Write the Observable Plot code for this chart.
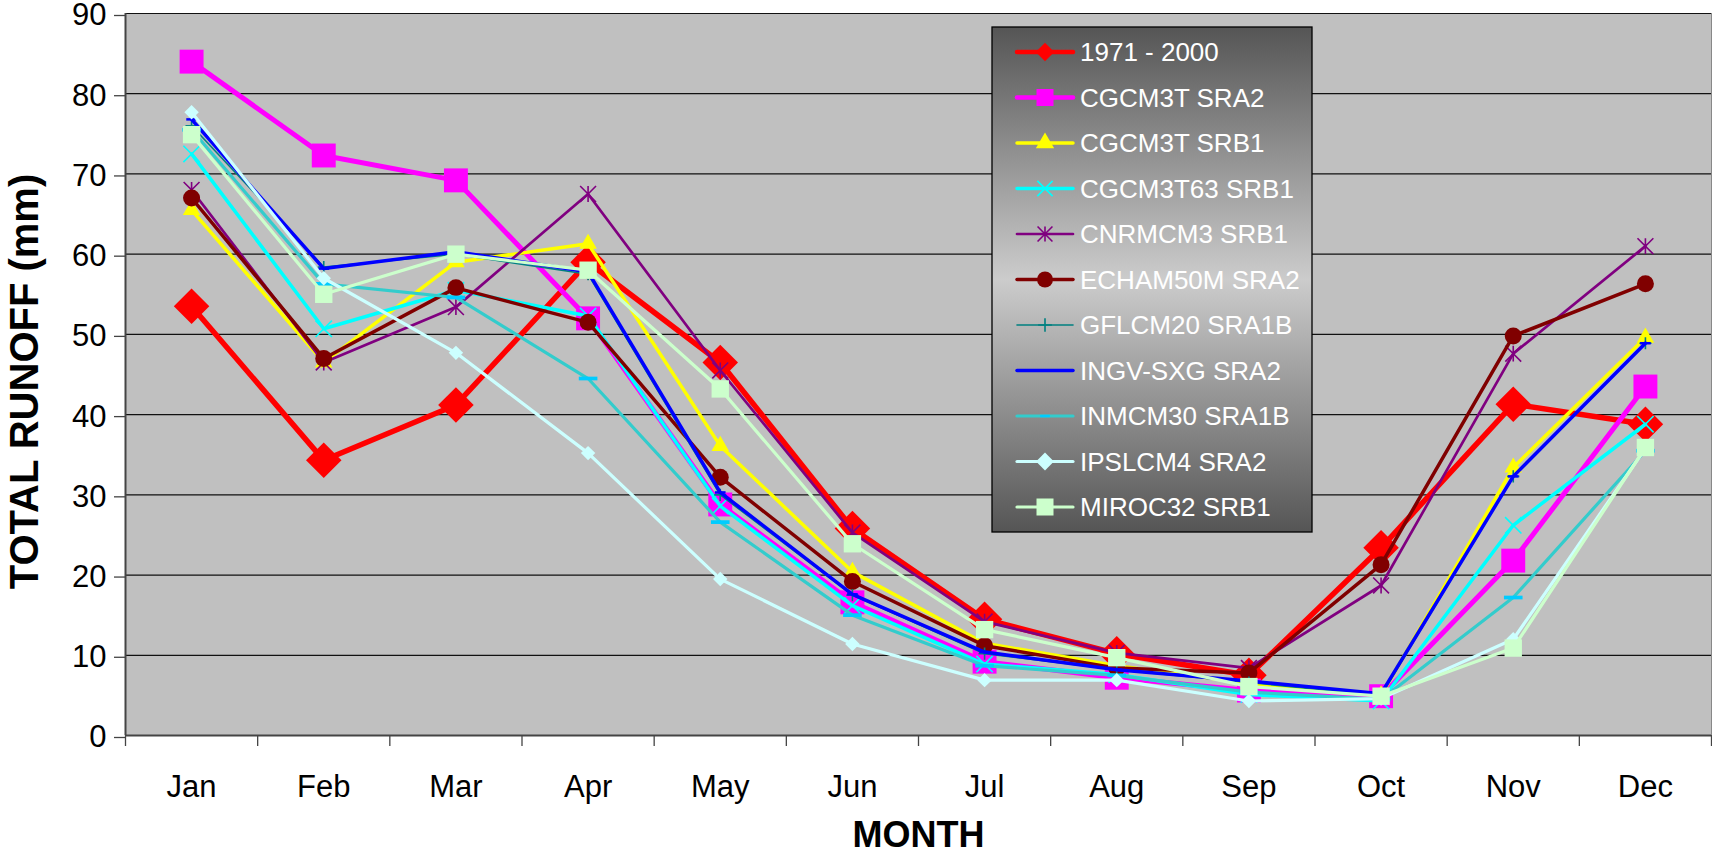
<!DOCTYPE html>
<html><head><meta charset="utf-8">
<script src="https://cdn.jsdelivr.net/npm/d3@7"></script>
<script src="https://cdn.jsdelivr.net/npm/@observablehq/plot@0.6"></script>
<style>
html,body{margin:0;padding:0;background:#fff;}
#chart{width:1712px;height:855px;}
</style></head><body><div id="chart"></div>
<script>
// ---- data ----
const months = ["Jan","Feb","Mar","Apr","May","Jun","Jul","Aug","Sep","Oct","Nov","Dec"];
const yTicks = [0,10,20,30,40,50,60,70,80,90];
const seriesNames = ["1971 - 2000","CGCM3T SRA2","CGCM3T SRB1","CGCM3T63 SRB1","CNRMCM3 SRB1","ECHAM50M SRA2","GFLCM20 SRA1B","INGV-SXG SRA2","INMCM30 SRA1B","IPSLCM4 SRA2","MIROC32 SRB1"];
const obs1971_2000  = [53.5, 34.3, 41.2, 59.0, 46.5, 25.8, 14.5, 10.2, 7.5, 23.4, 41.3, 38.8];
const cgcm3tSRA2    = [84.0, 72.3, 69.2, 52.0, 28.8, 16.6, 9.2, 7.2, 5.6, 4.9, 21.8, 43.5];
const cgcm3tSRB1    = [65.5, 46.5, 59.0, 61.3, 36.1, 20.4, 11.5, 8.7, 6.5, 5.0, 33.4, 49.6];
const cgcm3t63SRB1  = [72.5, 50.7, 55.5, 52.3, 28.6, 16.2, 8.9, 7.6, 5.1, 4.3, 26.2, 38.8];
const cnrmcm3SRB1   = [68.0, 46.5, 53.4, 67.5, 45.5, 25.3, 14.2, 10.3, 8.4, 18.7, 47.6, 61.0];
const echam50mSRA2  = [67.0, 47.0, 55.8, 51.5, 32.2, 19.2, 11.2, 8.4, 7.8, 21.3, 49.8, 56.3];
const gflcm20SRA1B  = [76.0, 58.4, 60.0, 57.5, 30.0, 17.5, 10.2, 8.2, 6.6, 5.0, 32.3, 48.9];
const ingvSXGSRA2   = [76.8, 58.2, 60.3, 57.8, 30.3, 17.6, 10.4, 8.2, 6.8, 5.2, 32.3, 48.9];
const inmcm30SRA1B  = [75.5, 56.3, 54.6, 44.5, 26.6, 15.0, 8.7, 7.5, 5.4, 4.5, 17.2, 35.5];
const ipslcm4SRA2   = [77.7, 57.0, 47.7, 35.2, 19.5, 11.4, 6.9, 6.9, 4.3, 4.6, 12.0, 35.8];
const miroc32SRB1   = [74.9, 55.0, 60.0, 58.0, 43.2, 23.9, 13.2, 9.7, 6.1, 4.9, 10.9, 35.9];
const seriesValues = [obs1971_2000, cgcm3tSRA2, cgcm3tSRB1, cgcm3t63SRB1, cnrmcm3SRB1, echam50mSRA2, gflcm20SRA1B, ingvSXGSRA2, inmcm30SRA1B, ipslcm4SRA2, miroc32SRB1];

// ---- styles ----
const dash = {draw(ctx, size){ const w = Math.sqrt(size); const h = Math.max(2.5, w/5); ctx.rect(-w/2, -h/2, w, h); }};
const star = {draw(ctx, size){ const r = Math.sqrt(size) * 0.56;
  ctx.moveTo(0, -r); ctx.lineTo(0, r);
  ctx.moveTo(-r, -r); ctx.lineTo(r, r);
  ctx.moveTo(-r, r); ctx.lineTo(r, -r); }};
const styles = [
  {line:"#FF0000", lw:5.5, sym:d3.symbolDiamond2, r:16,  fill:"#FF0000", lr:8.3},
  {line:"#FF00FF", lw:5,   sym:d3.symbolSquare,   r:13.5,fill:"#FF00FF", lr:9.6},
  {line:"#FFFF00", lw:3.5, sym:d3.symbolTriangle, r:6.5, fill:"#FFFF00", lr:6.8},
  {line:"#00FFFF", lw:3.5, sym:d3.symbolTimes,    r:7.5, stroke:"#00FFFF", lr:7},
  {line:"#800080", lw:2.7, sym:star,              r:8,   stroke:"#800080", lr:7.5},
  {line:"#800000", lw:3.5, sym:d3.symbolCircle,   r:8.5, fill:"#800000", lr:8},
  {line:"#008080", lw:1.6, sym:d3.symbolPlus,     r:4,   stroke:"#008080", lr:4.5},
  {line:"#0000FF", lw:3.5, sym:dash,              r:6,   fill:"#0000FF", lr:5},
  {line:"#33CCCC", lw:3.2, sym:dash,              r:10.5,fill:"#00CCFF", lr:5.5},
  {line:"#CCFFFF", lw:3.2, sym:d3.symbolDiamond2, r:6.5, fill:"#CCFFFF", lr:8},
  {line:"#CCFFCC", lw:3.2, sym:d3.symbolSquare,   r:9.8, fill:"#CCFFCC", lr:9.6}
];

const rows = seriesValues.map(vals => vals.map((v, i) => ({m: i, v})));
const boundaries = months.map((_, i) => i - 0.5).concat([months.length - 0.5]);
const monthIdx = months.map((_, i) => i);

const marks = [
  Plot.frame({fill:"#C0C0C0", stroke:"#888"}),
  Plot.gridY(yTicks, {stroke:"#111", strokeOpacity:1, strokeWidth:1.2}),
  Plot.axisY(yTicks, {tickSize:11, tickPadding:8, stroke:"#444", strokeWidth:1.3, fontSize:31, dy:2, label:null}),
  Plot.axisX(boundaries, {tickSize:11, tickFormat:() => "", stroke:"#444", strokeWidth:1.3, label:null}),
  Plot.axisX(monthIdx, {tickSize:0, tickPadding:39, tickFormat:i => months[i], fontSize:31, label:null}),
  Plot.ruleX([boundaries[0]], {stroke:"#444", strokeWidth:2}),
  Plot.ruleY([0], {stroke:"#444", strokeWidth:2})
];
rows.forEach((data, k) => {
  const s = styles[k];
  marks.push(Plot.line(data, {x:"m", y:"v", stroke:s.line, strokeWidth:s.lw, strokeLinejoin:"round"}));
  marks.push(Plot.dot(data, {x:"m", y:"v", symbol:s.sym, r:s.r,
    fill: s.fill || "none", stroke: s.stroke || "none", strokeWidth: s.stroke ? 1.6 : 0}));
});
marks.push(Plot.text(["MONTH"], {frameAnchor:"bottom", text:d => d, dy:100, lineAnchor:"middle", fontSize:36, fontWeight:"bold", fill:"#000"}));
marks.push(Plot.text(["TOTAL RUNOFF (mm)"], {frameAnchor:"left", text:d => d, rotate:-90, dx:-100, dy:7, lineAnchor:"middle", textAnchor:"middle", fontSize:40, fontWeight:"bold", fill:"#000"}));

const chart = Plot.plot({
  width:1712, height:855,
  marginLeft:125, marginRight:1, marginTop:13, marginBottom:120,
  x:{type:"linear", domain:[boundaries[0], boundaries[boundaries.length-1]], axis:null},
  y:{domain:[0,90], axis:null},
  style:{fontFamily:"'Liberation Sans', Arial, sans-serif", fontSize:"31px", background:"#fff", color:"#000", overflow:"visible"},
  marks
});
document.getElementById("chart").appendChild(chart);

// ---- legend ----
const svg = d3.select(chart);
const grad = svg.append("defs").append("linearGradient").attr("id","lgGrad").attr("x1",0).attr("y1",0).attr("x2",0).attr("y2",1);
[["0%","#555555"],["50%","#cccccc"],["100%","#555555"]].forEach(([o,c]) => grad.append("stop").attr("offset",o).attr("stop-color",c));
const lg = svg.append("g").attr("text-anchor","start");
lg.append("rect").attr("x",992).attr("y",27).attr("width",320).attr("height",505).attr("fill","url(#lgGrad)").attr("stroke","#000").attr("stroke-width",1.3);
seriesNames.forEach((name, k) => {
  const s = styles[k];
  const y = 52 + k * 45.5;
  lg.append("line").attr("x1",1017).attr("x2",1073).attr("y1",y).attr("y2",y).attr("stroke",s.line).attr("stroke-width",Math.min(s.lw, 4.5)).attr("stroke-linecap","round");
  lg.append("path").attr("transform",`translate(1045,${y})`)
    .attr("d", d3.symbol(s.sym, Math.PI * s.lr * s.lr)())
    .attr("fill", s.fill || "none").attr("stroke", s.stroke || "none").attr("stroke-width", s.stroke ? 1.6 : 0);
  lg.append("text").attr("x",1080).attr("y",y).attr("dy","0.36em").attr("fill","#fff").attr("text-anchor","start")
    .attr("font-size",26).attr("font-family","'Liberation Sans', Arial, sans-serif").text(name);
});
</script></body></html>
